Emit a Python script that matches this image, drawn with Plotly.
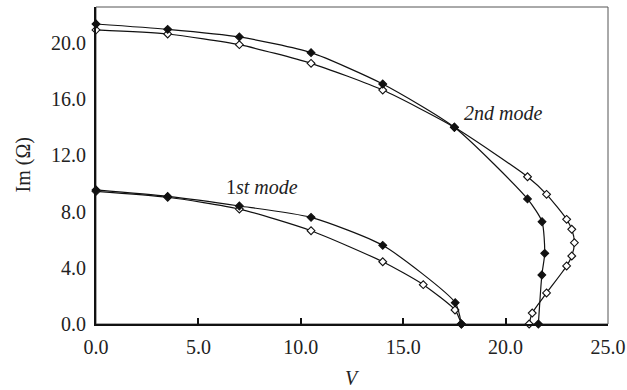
import plotly.graph_objects as go

# 2nd mode, filled diamonds
v2_filled = [0.0, 3.5, 7.0, 10.5, 14.0, 17.5, 21.07, 21.78, 21.91, 21.77, 21.6]
im2_filled = [21.35, 20.97, 20.43, 19.31, 17.08, 14.0, 8.9, 7.28, 5.03, 3.49, 0.0]
# 2nd mode, open diamonds
v2_open = [0.0, 3.5, 7.0, 10.5, 14.0, 17.5, 21.07, 22.0, 22.98, 23.23, 23.36, 23.23, 22.98, 22.0, 21.3, 21.15]
im2_open = [20.93, 20.64, 19.88, 18.55, 16.65, 14.0, 10.48, 9.23, 7.45, 6.74, 5.79, 4.84, 4.13, 2.21, 0.78, 0.0]
# 1st mode, filled diamonds
v1_filled = [0.0, 3.5, 7.0, 10.5, 14.0, 17.54, 17.84]
im1_filled = [9.54, 9.08, 8.4, 7.59, 5.6, 1.52, 0.0]
# 1st mode, open diamonds
v1_open = [0.0, 3.5, 7.0, 10.5, 14.0, 15.98, 17.53, 17.84]
im1_open = [9.44, 9.02, 8.18, 6.64, 4.43, 2.8, 1.0, 0.0]

x_ticks = [0, 5, 10, 15, 20, 25]
y_ticks = [0, 4, 8, 12, 16, 20]

FONT = "Liberation Serif"
TXT = "#222222"

fig = go.Figure()

def add(xs, ys, filled):
    fig.add_trace(go.Scatter(
        x=xs, y=ys, mode="lines+markers",
        line=dict(color="#111111", width=1.2, shape="spline", smoothing=0.6),
        marker=dict(symbol="diamond", size=6,
                    color="#111111" if filled else "white",
                    line=dict(color="#111111", width=1.1)),
        showlegend=False, cliponaxis=False, hoverinfo="skip",
    ))

add(v2_open, im2_open, False)
add(v2_filled, im2_filled, True)
add(v1_open, im1_open, False)
add(v1_filled, im1_filled, True)

fig.add_annotation(x=8.1, y=9.75, xref="x", yref="y", showarrow=False,
                   text="1<i>st mode</i>", font=dict(family=FONT, size=20, color=TXT))
fig.add_annotation(x=19.87, y=15.0, xref="x", yref="y", showarrow=False,
                   text="<i>2nd mode</i>", font=dict(family=FONT, size=20, color=TXT))

# axis titles
fig.add_annotation(x=0.5, y=0, xref="paper", yref="paper", yshift=-54,
                   xanchor="center", yanchor="middle", showarrow=False,
                   text="<i>V</i>", font=dict(family=FONT, size=20, color=TXT))
fig.add_annotation(x=0, y=0.5, xref="paper", yref="paper", xshift=-73,
                   xanchor="center", yanchor="middle", showarrow=False, textangle=-90,
                   text="Im (Ω)", font=dict(family=FONT, size=20, color=TXT))

# thin frame on top/right
fig.add_shape(type="rect", xref="paper", yref="paper", x0=0, y0=0, x1=1, y1=1,
              line=dict(color="#555555", width=1), layer="below")

fig.update_layout(
    width=627, height=390,
    margin=dict(l=96, r=19, t=7, b=66),
    paper_bgcolor="white", plot_bgcolor="white",
    font=dict(family=FONT, size=20, color=TXT),
    xaxis=dict(range=[0, 25], tickvals=x_ticks, tickformat=".1f",
               tickfont=dict(family=FONT, size=20, color=TXT),
               showgrid=False, zeroline=False, automargin=False,
               showline=True, linecolor="#111", linewidth=2,
               ticks="inside", ticklen=6, tickcolor="#111", tickwidth=1.5,
               ticklabelstandoff=4),
    yaxis=dict(range=[0, 22.56], tickvals=y_ticks, tickformat=".1f",
               tickfont=dict(family=FONT, size=20, color=TXT),
               showgrid=False, zeroline=False, automargin=False,
               showline=True, linecolor="#111", linewidth=2,
               ticks="", ticklabelstandoff=4),
)

fig.write_html("out.html", config={"displayModeBar": False},
               post_script="document.body.style.margin='0';")
